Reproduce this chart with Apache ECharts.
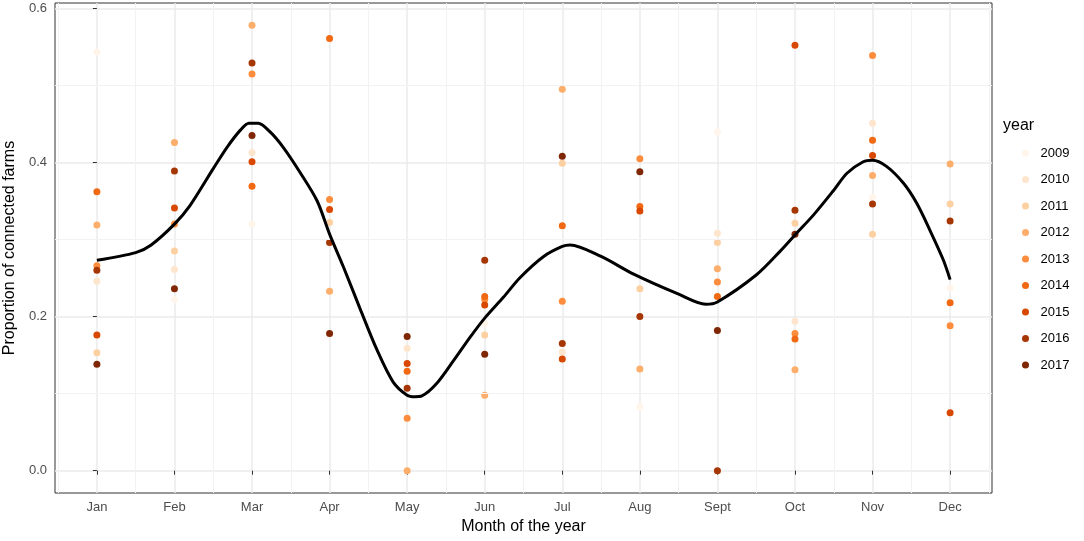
<!DOCTYPE html>
<html>
<head>
<meta charset="utf-8">
<script src="https://cdn.jsdelivr.net/npm/echarts@6/dist/echarts.min.js"></script>
<style>
  html, body { margin: 0; padding: 0; background: #fff; }
  #chart { width: 1084px; height: 541px; }
</style>
</head>
<body>
<div id="chart"></div>
<script>
var months = ['Jan', 'Feb', 'Mar', 'Apr', 'May', 'Jun', 'Jul', 'Aug', 'Sept', 'Oct', 'Nov', 'Dec'];
var years = ['2009', '2010', '2011', '2012', '2013', '2014', '2015', '2016', '2017'];
var yearColors = ['#FFF5EB', '#FEE6CE', '#FDD0A2', '#FDAE6B', '#FD8D3C', '#F16913', '#D94801', '#A63603', '#7F2704'];

// proportion of connected farms, Jan..Dec, per year (null = not visible)
var y2009 = [0.543, 0.222, 0.320, null, null, 0.191, null, 0.083, 0.440, null, 0.355, 0.237];
var y2010 = [0.246, 0.261, 0.413, null, 0.159, null, 0.154, null, 0.308, 0.194, 0.451, null];
var y2011 = [0.153, 0.285, null, 0.322, null, 0.176, 0.399, 0.236, 0.296, 0.321, 0.307, 0.346];
var y2012 = [0.319, 0.426, 0.578, 0.233, 0.000, 0.098, 0.495, 0.132, 0.262, 0.131, 0.383, 0.398];
var y2013 = [0.266, 0.320, 0.515, 0.352, 0.068, 0.222, 0.220, 0.405, 0.245, 0.178, 0.539, 0.188];
var y2014 = [0.362, null, 0.369, 0.561, 0.129, 0.226, 0.318, 0.343, 0.226, 0.171, 0.429, 0.218];
var y2015 = [0.176, 0.341, 0.401, 0.339, 0.139, 0.215, 0.145, 0.337, null, 0.552, 0.409, 0.075];
var y2016 = [0.260, 0.389, 0.529, 0.296, 0.107, 0.273, 0.165, 0.200, 0.000, 0.338, 0.346, 0.324];
var y2017 = [0.138, 0.236, 0.435, 0.178, 0.174, 0.151, 0.408, 0.388, 0.182, 0.307, null, null];
var yearValues = [y2009, y2010, y2011, y2012, y2013, y2014, y2015, y2016, y2017];

// smoothed trend (month index, value)
var smoothX = [0, 0.5, 0.7, 1, 1.2, 1.5, 1.68, 1.85, 1.96, 2.08, 2.23, 2.4, 2.62, 2.84, 3, 3.18, 3.39, 3.61, 3.82,
               4, 4.1, 4.19, 4.38, 4.6, 4.81, 5, 5.24, 5.46, 5.76, 6, 6.1, 6.5, 6.92, 7.5, 7.85, 8, 8.5, 8.81,
               9, 9.24, 9.5, 9.67, 9.88, 10, 10.18, 10.4, 10.57, 10.74, 10.91, 11];
var smoothY = [0.273, 0.283, 0.293, 0.320, 0.344, 0.392, 0.420, 0.442, 0.451, 0.451, 0.440, 0.420, 0.387, 0.350, 0.307, 0.264, 0.211, 0.157, 0.115,
               0.098, 0.096, 0.097, 0.113, 0.143, 0.173, 0.198, 0.225, 0.251, 0.278, 0.291, 0.293, 0.278, 0.255, 0.229, 0.216, 0.219, 0.254, 0.285,
               0.306, 0.332, 0.364, 0.386, 0.401, 0.403, 0.395, 0.373, 0.347, 0.312, 0.274, 0.248];

// minor grid positions (between months, and between labelled values)
var minorX = [-0.5, 0.5, 1.5, 2.5, 3.5, 4.5, 5.5, 6.5, 7.5, 8.5, 9.5, 10.5, 11.5];
var minorY = [0.1, 0.3, 0.5];
var monthTicks = [0, 1, 2, 3, 4, 5, 6, 7, 8, 9, 10, 11];
var valueTicks = [0, 0.2, 0.4, 0.6];

var chart = echarts.init(document.getElementById('chart'));

var series = [{
    name: 'minor grid',
    type: 'scatter',
    data: [],
    silent: true,
    z: 0,
    markLine: {
        silent: true,
        symbol: 'none',
        label: { show: false },
        animation: false,
        lineStyle: { color: '#f2f2f2', width: 1, type: 'solid' },
        data: minorX.map(function (x) { return { xAxis: x }; })
            .concat(minorY.map(function (y) { return { yAxis: y }; }))
    }
}];
years.forEach(function (yr, i) {
    var pts = [];
    yearValues[i].forEach(function (v, m) {
        if (v !== null) pts.push([m, v]);
    });
    series.push({
        name: yr,
        type: 'scatter',
        data: pts,
        symbol: 'circle',
        symbolSize: 7,
        itemStyle: { color: yearColors[i], opacity: 1 },
        emphasis: { disabled: true },
        z: 2
    });
});
series.push({
    name: 'smooth',
    type: 'line',
    data: smoothX.map(function (x, i) { return [x, smoothY[i]]; }),
    smooth: 0.3,
    showSymbol: false,
    lineStyle: { color: '#000', width: 3 },
    emphasis: { disabled: true },
    z: 5
});

var labelFont = { fontFamily: 'Liberation Sans, Arial, sans-serif', fontSize: 13, color: '#4d4d4d' };
var titleFont = { fontFamily: 'Liberation Sans, Arial, sans-serif', fontSize: 16, color: '#000' };

chart.setOption({
    animation: false,
    backgroundColor: '#fff',
    title: {
        text: 'year',
        left: 1003,
        top: 118,
        padding: 0,
        textStyle: Object.assign({ fontWeight: 'normal' }, titleFont)
    },
    legend: {
        data: years,
        orient: 'vertical',
        left: 1022,
        top: 146,
        padding: 0,
        icon: 'circle',
        itemWidth: 20,
        itemHeight: 7,
        itemGap: 12.5,
        selectedMode: false,
        textStyle: { fontFamily: 'Liberation Sans, Arial, sans-serif', fontSize: 13, color: '#000', lineHeight: 14 }
    },
    grid: {
        left: 55,
        right: 92,
        top: 3,
        bottom: 48,
        outerBoundsMode: 'none',
        containLabel: false,
        show: true,
        borderColor: '#333',
        borderWidth: 1
    },
    xAxis: {
        type: 'value',
        min: -0.54,
        max: 11.54,
        name: 'Month of the year',
        nameLocation: 'middle',
        nameGap: 22,
        nameTextStyle: titleFont,
        axisLine: { show: false },
        axisTick: { show: true, length: 4, customValues: monthTicks, lineStyle: { color: '#333' } },
        axisLabel: Object.assign({
            margin: 8,
            customValues: monthTicks,
            formatter: function (v) { return months[Math.round(v)] || ''; }
        }, labelFont),
        splitLine: { show: true, lineStyle: { color: '#ebebeb', width: 1.5 } }
    },
    yAxis: {
        type: 'value',
        min: -0.029,
        max: 0.607,
        name: 'Proportion of connected farms',
        nameLocation: 'middle',
        nameGap: 30,
        nameTextStyle: titleFont,
        axisLine: { show: false },
        axisTick: { show: true, length: 4, customValues: valueTicks, lineStyle: { color: '#333' } },
        axisLabel: Object.assign({
            margin: 8,
            customValues: valueTicks,
            formatter: function (v) { return v.toFixed(1); }
        }, labelFont),
        splitLine: { show: true, lineStyle: { color: '#ebebeb', width: 1.5 } }
    },
    series: series
});
</script>
</body>
</html>
